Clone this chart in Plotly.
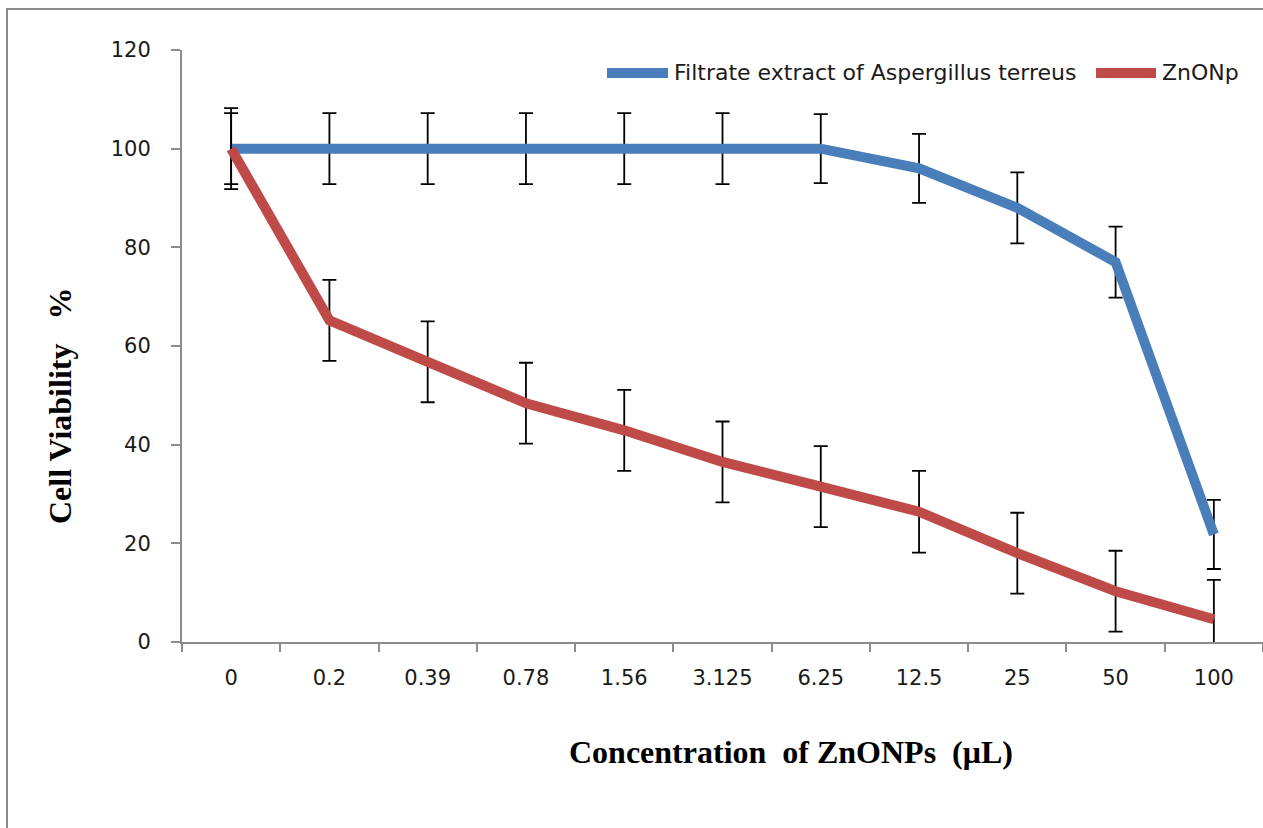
import plotly.graph_objects as go

categories = ["0", "0.2", "0.39", "0.78", "1.56", "3.125", "6.25", "12.5", "25", "50", "100"]
filtrate_vals = [100, 100, 100, 100, 100, 100, 100, 96, 88, 77, 21.8]
filtrate_err = [7.2, 7.2, 7.2, 7.2, 7.2, 7.2, 7.0, 7.0, 7.2, 7.2, 7.0]
znonp_vals = [100, 65.2, 56.8, 48.4, 42.9, 36.5, 31.5, 26.4, 18.0, 10.3, 4.6]
znonp_err = [8.2, 8.2, 8.2, 8.2, 8.2, 8.2, 8.2, 8.3, 8.2, 8.2, 8.0]
series_names = ["Filtrate extract of Aspergillus terreus", "ZnONp"]

BLUE = "#4A7EBB"
RED = "#BE4B48"
SANS = "DejaVu Sans, Verdana, sans-serif"
SERIF = "Liberation Serif, Times New Roman, serif"
TICKFONT = dict(family=SANS, size=21, color="#1a1a1a")

fig = go.Figure()
fig.add_trace(go.Scatter(
    x=categories, y=filtrate_vals, mode="lines", name=series_names[0],
    line=dict(color=BLUE, width=10), showlegend=False,
    error_y=dict(type="data", array=filtrate_err, visible=True, color="black", thickness=1.8, width=7),
))
fig.add_trace(go.Scatter(
    x=categories, y=znonp_vals, mode="lines", name=series_names[1],
    line=dict(color=RED, width=10), showlegend=False,
    error_y=dict(type="data", array=znonp_err, visible=True, color="black", thickness=1.8, width=7),
))

W, H = 1263, 828
L, R, T, B = 182, 0, 50, 186
pw, ph = W - L - R, H - T - B

def px_x(px):
    return (px - L) / pw

def px_y(py):
    return (H - B - py) / ph

# legend drawn as samples + labels
legend_y = 73
legend_items = [(BLUE, 607, 668, 672), (RED, 1096, 1156, 1160)]
shapes = [
    dict(type="rect", xref="paper", yref="paper",
         x0=px_x(7), x1=px_x(1300), y0=px_y(900), y1=px_y(9),
         line=dict(color="#8a8a8a", width=2), fillcolor="rgba(0,0,0,0)", layer="below"),
]
annotations = [
    dict(text="<b>Concentration  of ZnONPs  (μL)</b>", xref="paper", yref="paper",
         x=px_x(791), y=px_y(752), xanchor="center", yanchor="middle", showarrow=False,
         font=dict(family=SERIF, size=32, color="black")),
    dict(text="<b>Cell Viability   %</b>", xref="paper", yref="paper",
         x=px_x(60), y=px_y(406), xanchor="center", yanchor="middle", showarrow=False,
         textangle=-90, font=dict(family=SERIF, size=32, color="black")),
]
for (col, x0, x1, tx), name in zip(legend_items, series_names):
    shapes.append(dict(type="line", xref="paper", yref="paper",
                       x0=px_x(x0), x1=px_x(x1), y0=px_y(legend_y), y1=px_y(legend_y),
                       line=dict(color=col, width=10)))
    annotations.append(dict(text=name, xref="paper", yref="paper", x=px_x(tx), y=px_y(legend_y),
                            xanchor="left", yanchor="middle", showarrow=False,
                            font=dict(family=SANS, size=22, color="#1a1a1a")))

fig.update_layout(
    width=W, height=H,
    margin=dict(l=L, r=R, t=T, b=B),
    paper_bgcolor="white", plot_bgcolor="white",
    xaxis=dict(
        type="category", showline=True, linecolor="#8c8c8c", linewidth=2,
        ticks="outside", ticklen=8, tickcolor="#8c8c8c", tickwidth=2,
        tickson="boundaries", showgrid=False, zeroline=False,
        tickfont=TICKFONT, ticklabelstandoff=16,
        range=[-0.5, 10.5],
    ),
    yaxis=dict(
        range=[0, 120], dtick=20, showline=True, linecolor="#8c8c8c", linewidth=2,
        ticks="outside", ticklen=9, tickcolor="#8c8c8c", tickwidth=2,
        showgrid=False, zeroline=False, tickfont=TICKFONT, ticklabelstandoff=16,
    ),
    annotations=annotations,
    shapes=shapes,
)

fig.write_html("out.html")
